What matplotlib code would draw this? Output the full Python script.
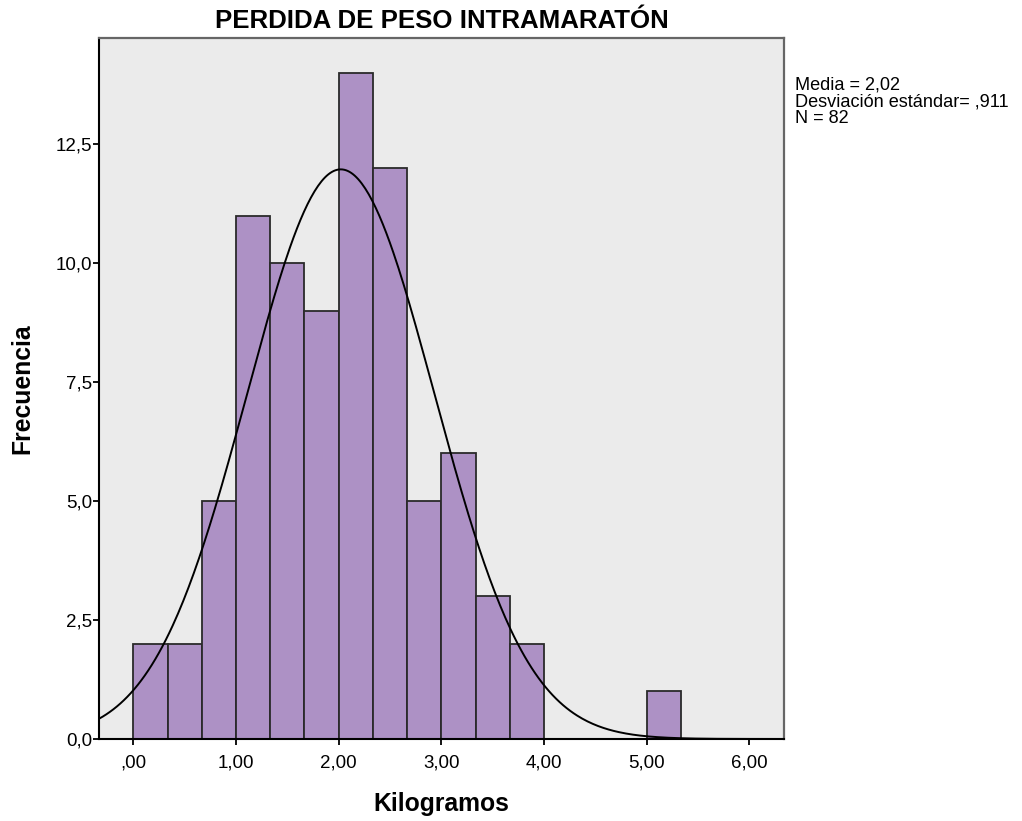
import matplotlib

matplotlib.use("Agg")
import matplotlib.pyplot as plt
import numpy as np
from matplotlib.ticker import FuncFormatter

plt.rcParams["font.family"] = ["Liberation Sans", "DejaVu Sans"]

# histogram bins (width 1/3 kg) and counts
bin_edges = np.arange(0, 16 + 1) / 3.0
counts = [2, 2, 5, 11, 10, 9, 14, 12, 5, 6, 3, 2, 0, 0, 0, 1]
mean_kg = 2.02
sd_kg = 0.911
n_obs = 82
xticks = [0, 1, 2, 3, 4, 5, 6]
yticks = [0, 2.5, 5.0, 7.5, 10.0, 12.5]


def fmt_x(v, pos):
    s = ("%.2f" % v).replace(".", ",")
    return s.lstrip("0") if v == 0 else s


fig = plt.figure(figsize=(10.22, 8.21), dpi=100)
ax = fig.add_axes([0.0969, 0.0999, 0.6702, 0.8538])
ax.set_facecolor("#ebebeb")

ax.bar(bin_edges[:-1], counts, width=np.diff(bin_edges), align="edge",
       color="#ad91c5", edgecolor="#2a2a2a", linewidth=1.3, zorder=2)

# fitted normal curve from the reported statistics
xs = np.linspace(-0.4, 6.4, 400)
bw = bin_edges[1] - bin_edges[0]
ys = n_obs * bw / (sd_kg * np.sqrt(2 * np.pi)) * np.exp(-0.5 * ((xs - mean_kg) / sd_kg) ** 2)
ax.plot(xs, ys, color="black", lw=1.4, zorder=3)

ax.set_xlim(-0.334, 6.336)
ax.set_ylim(0, 14.73)
ax.set_xticks(xticks)
ax.set_yticks(yticks)
ax.xaxis.set_major_formatter(FuncFormatter(fmt_x))
ax.yaxis.set_major_formatter(FuncFormatter(lambda v, p: ("%.1f" % v).replace(".", ",")))
ax.tick_params(axis="both", direction="out", length=4, width=1.3, labelsize=13.5, colors="black")
ax.tick_params(axis="x", pad=7)
ax.tick_params(axis="y", pad=1)

for s in ("left", "bottom"):
    ax.spines[s].set_color("black")
    ax.spines[s].set_linewidth(1.5)
for s in ("top", "right"):
    ax.spines[s].set_color("#666666")
    ax.spines[s].set_linewidth(1.6)

ax.set_xlabel("Kilogramos", fontsize=17.8, fontweight="bold", labelpad=15)
ax.set_ylabel("Frecuencia", fontsize=17.8, fontweight="bold", labelpad=15)
ax.set_title("PERDIDA DE PESO INTRAMARATÓN", fontsize=18.6, fontweight="bold", pad=7)

fig.text(0.778, 0.907, "Media = 2,02\nDesviación estándar= ,911\nN = 82",
         fontsize=13.1, va="top", ha="left", linespacing=1.0)

fig.savefig("out.png", dpi=100)
